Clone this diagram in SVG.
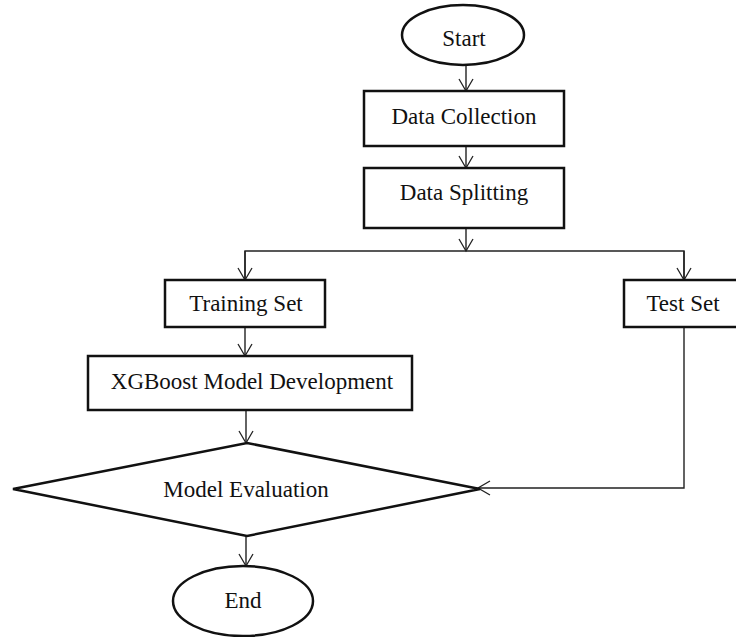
<svg xmlns="http://www.w3.org/2000/svg" width="736" height="637" viewBox="0 0 736 637">
<defs>
<marker id="arr" viewBox="0 0 16 16" refX="14" refY="8" markerWidth="16" markerHeight="16" markerUnits="userSpaceOnUse" orient="auto">
<path d="M2,1 L14,8 L2,15" fill="none" stroke="#222" stroke-width="1.3"/>
</marker>
<style>
.shape{fill:#fff;stroke:#111;stroke-width:2.5}
.lbl{font-family:"Liberation Serif","Times New Roman",serif;font-size:23px;fill:#111;text-anchor:middle}
.con{fill:none;stroke:#222;stroke-width:1.4}
</style>
</defs>
<rect width="736" height="637" fill="#fff"/>
<g id="connectors">
<line class="con" x1="466" y1="65" x2="466" y2="91" marker-end="url(#arr)"/>
<line class="con" x1="466" y1="146" x2="466" y2="168" marker-end="url(#arr)"/>
<line class="con" x1="466" y1="228" x2="466" y2="251" marker-end="url(#arr)"/>
<polyline class="con" points="245,280 245,251 684,251 684,280"/>
<line class="con" x1="245" y1="251" x2="245" y2="280" marker-end="url(#arr)"/>
<line class="con" x1="684" y1="251" x2="684" y2="280" marker-end="url(#arr)"/>
<line class="con" x1="245" y1="327" x2="245" y2="356" marker-end="url(#arr)"/>
<line class="con" x1="246" y1="410" x2="246" y2="443" marker-end="url(#arr)"/>
<polyline class="con" points="684,327 684,488 478,488" marker-end="url(#arr)"/>
<line class="con" x1="246" y1="536" x2="246" y2="566" marker-end="url(#arr)"/>
</g>
<g id="start">
<ellipse class="shape" cx="463" cy="35" rx="61" ry="30"/>
<text class="lbl" x="464" y="46">Start</text>
</g>
<g id="data-collection">
<rect class="shape" x="364" y="91" width="200" height="55"/>
<text class="lbl" x="464" y="124">Data Collection</text>
</g>
<g id="data-splitting">
<rect class="shape" x="364" y="168" width="200" height="60"/>
<text class="lbl" x="464" y="200">Data Splitting</text>
</g>
<g id="training-set">
<rect class="shape" x="165" y="280" width="160" height="47"/>
<text class="lbl" x="246" y="311">Training Set</text>
</g>
<g id="test-set">
<rect class="shape" x="624" y="280" width="120" height="47"/>
<text class="lbl" x="683" y="311">Test Set</text>
</g>
<g id="xgboost">
<rect class="shape" x="88" y="356" width="324" height="54"/>
<text class="lbl" x="252" y="389">XGBoost Model Development</text>
</g>
<g id="model-evaluation">
<polygon class="shape" points="247,443 480,489 247,536 13,489"/>
<text class="lbl" x="246" y="497">Model Evaluation</text>
</g>
<g id="end">
<ellipse class="shape" cx="243" cy="601" rx="70" ry="35"/>
<text class="lbl" x="243" y="608">End</text>
</g>
</svg>
